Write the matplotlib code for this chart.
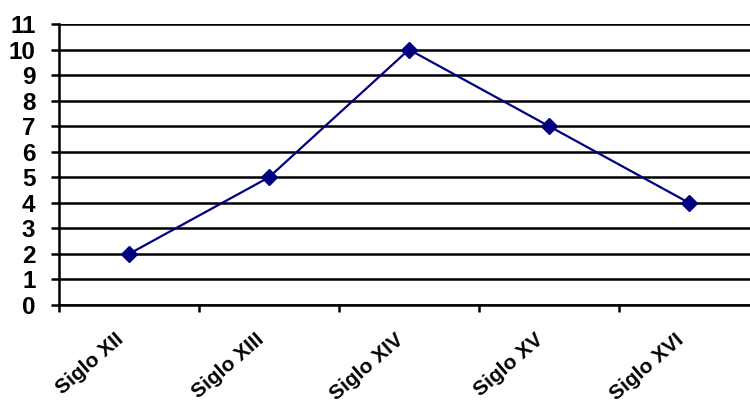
import matplotlib
matplotlib.use("Agg")
import matplotlib.pyplot as plt
import matplotlib.transforms as mtransforms

siglos = ["Siglo XII", "Siglo XIII", "Siglo XIV", "Siglo XV", "Siglo XVI"]
valores = [2, 5, 10, 7, 4]
yticks = list(range(0, 12))

plt.rcParams['font.family'] = ['Liberation Sans', 'DejaVu Sans']

fig = plt.figure(figsize=(7.5, 4), dpi=100)
ax = fig.add_axes([59/750, 95/400, 700/750, 281/400])

x = list(range(len(siglos)))
ax.plot(x, valores, color="#000080", lw=1.6, marker="D", markersize=8,
        markerfacecolor="#000080", markeredgecolor="#000080", zorder=3)

ax.set_xlim(-0.5, len(siglos) - 0.5)
ax.set_ylim(0, 11)
ax.set_yticks(yticks)
ax.set_yticklabels([str(v) for v in yticks], fontsize=17.5, fontweight="bold")
ax.yaxis.grid(True, color="black", lw=1.8)
ax.set_axisbelow(True)

# ticks between categories, labels at centers
ax.set_xticks([i - 0.5 for i in range(len(siglos) + 1)])
ax.set_xticklabels([])
ax.set_xticks(x, minor=True)
ax.set_xticklabels(siglos, minor=True, rotation=41, ha="right",
                   rotation_mode="anchor", fontsize=15, fontweight="bold")
ax.tick_params(axis="x", which="minor", length=0, pad=18)
ax.tick_params(axis="x", which="major", length=5, width=1.8, direction="out")
ax.tick_params(axis="y", length=6, width=1.8, pad=11)

shift = mtransforms.ScaledTranslation(-14/100, 0, fig.dpi_scale_trans)
for lbl in ax.get_xticklabels(minor=True):
    lbl.set_transform(lbl.get_transform() + shift)

for s in ["top", "right"]:
    ax.spines[s].set_visible(False)
ax.spines["left"].set_linewidth(1.8)
ax.spines["bottom"].set_linewidth(1.8)

fig.savefig("out.png", dpi=100)
